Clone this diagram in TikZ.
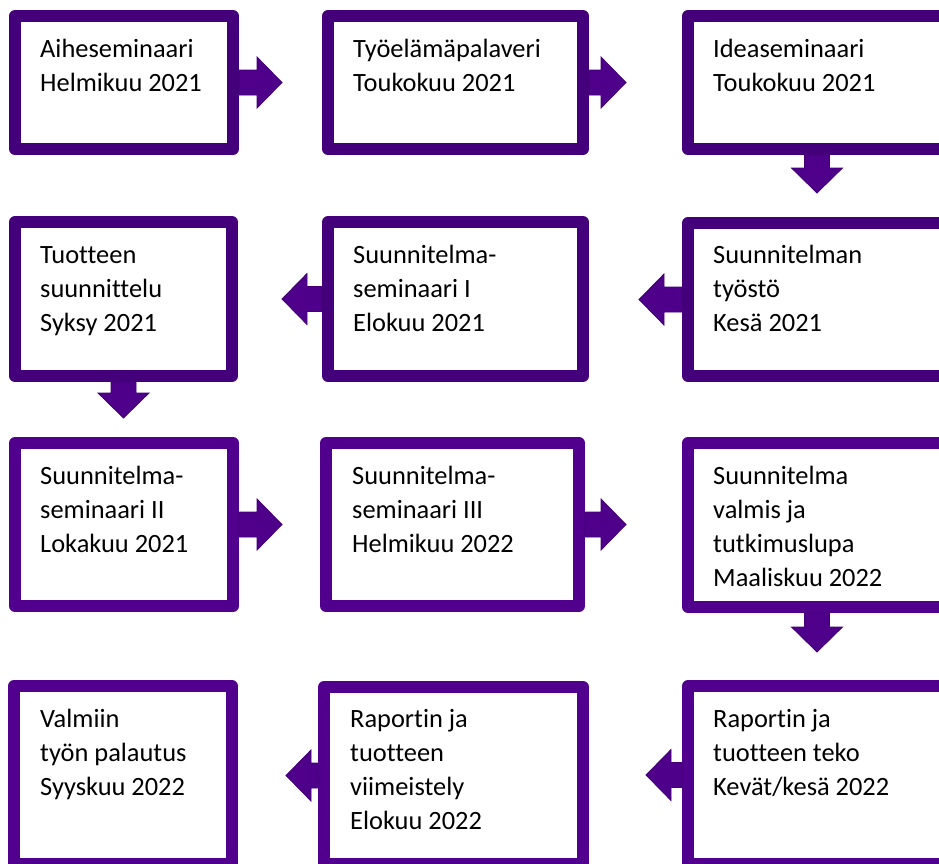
\documentclass[tikz,border=0pt]{standalone}
\usepackage{fontspec}
\setmainfont[Ligatures=NoCommon]{Carlito}
\usetikzlibrary{positioning}
\definecolor{boxdark}{RGB}{68,0,122}
\definecolor{boxlight}{RGB}{80,0,140}
\definecolor{arrowfill}{RGB}{78,0,138}
\definecolor{arrowedge}{RGB}{66,0,116}
\tikzset{
  stepbox/.style={draw=boxdark, line width=12pt, line join=round, outer sep=6pt,
    inner sep=0pt, anchor=north west, fill=white},
  steptext/.style={anchor=north west, align=left, inner sep=0pt},
  pics/blockarr/.style={code={
    \draw[fill=arrowfill, draw=arrowedge, line width=0.8pt]
      (0pt,-12.5pt) -- (#1,-12.5pt) -- ++(0pt,-13pt) -- ++(25pt,25.5pt)
      -- ++(-25pt,25.5pt) -- ++(0pt,-13pt) -- (0pt,12.5pt) -- cycle;
  }}
}

\begin{document}
\begin{tikzpicture}[x=1pt, y=-1pt]
    \fontsize{26.4}{34}\selectfont
    \useasboundingbox (0,0) rectangle (939,863);
    \clip (0,0) rectangle (939,863);
    % boxes
    \node [stepbox, minimum width=218pt, minimum height=133pt] (b1) at (9,10) {};
    \node [stepbox, minimum width=255pt, minimum height=133pt] (b2) at (322,10) {};
    \node [stepbox, minimum width=258pt, minimum height=133pt] (b3) at (682,10) {};
    \node [stepbox, minimum width=217pt, minimum height=154pt] (b4) at (9,216) {};
    \node [stepbox, minimum width=255pt, minimum height=154pt] (b5) at (322,216) {};
    \node [stepbox, minimum width=258pt, minimum height=153pt] (b6) at (682,217) {};
    \node [stepbox, draw=boxlight, minimum width=218pt, minimum height=163pt] (b7) at (9,437) {};
    \node [stepbox, draw=boxlight, minimum width=253pt, minimum height=163pt] (b8) at (320,437) {};
    \node [stepbox, draw=boxlight, minimum width=258pt, minimum height=164pt] (b9) at (682,437) {};
    \node [stepbox, draw=boxlight, minimum width=218pt, minimum height=178pt] (b10) at (8,680) {};
    \node [stepbox, draw=boxlight, minimum width=259pt, minimum height=177pt] (b11) at (318,681) {};
    \node [stepbox, draw=boxlight, minimum width=258pt, minimum height=178pt] (b12) at (682,680) {};
    % texts (first baseline 47pt below the box top)
    \node [steptext] (t1) at ([shift={(31pt,-23.2pt)}]b1.north west) {\strut Aiheseminaari\\Helmikuu 2021};
    \node [steptext] (t2) at ([shift={(31pt,-23.2pt)}]b2.north west) {\strut Työelämäpalaveri\\Toukokuu 2021};
    \node [steptext] (t3) at ([shift={(31pt,-23.2pt)}]b3.north west) {\strut Ideaseminaari\\Toukokuu 2021};
    \node [steptext] (t4) at ([shift={(31pt,-23.2pt)}]b4.north west) {\strut Tuotteen\\suunnittelu\\Syksy 2021};
    \node [steptext] (t5) at ([shift={(31pt,-23.2pt)}]b5.north west) {\strut Suunnitelma-\\seminaari I\\Elokuu 2021};
    \node [steptext] (t6) at ([shift={(31pt,-22.2pt)}]b6.north west) {\strut Suunnitelman\\työstö\\Kesä 2021};
    \node [steptext] (t7) at ([shift={(31pt,-23.2pt)}]b7.north west) {\strut Suunnitelma-\\seminaari II\\Lokakuu 2021};
    \node [steptext] (t8) at ([shift={(32pt,-23.2pt)}]b8.north west) {\strut Suunnitelma-\\seminaari III\\Helmikuu 2022};
    \node [steptext] (t9) at ([shift={(31pt,-23.2pt)}]b9.north west) {\strut Suunnitelma\\valmis ja\\tutkimuslupa\\Maaliskuu 2022};
    \node [steptext] (t10) at ([shift={(32pt,-23.2pt)}]b10.north west) {\strut Valmiin\\työn palautus\\Syyskuu 2022};
    \node [steptext] (t11) at ([shift={(32pt,-22.2pt)}]b11.north west) {\strut Raportin ja\\tuotteen\\viimeistely\\Elokuu 2022};
    \node [steptext] (t12) at ([shift={(31pt,-23.2pt)}]b12.north west) {\strut Raportin ja\\tuotteen teko\\Kevät/kesä 2022};
    % arrows
    \pic at (b1.east) {blockarr=18pt};
    \pic at (b2.east) {blockarr=12pt};
    \pic[rotate=-90] at (b3.south) {blockarr=13pt};
    \pic[rotate=180] at (b6.west) {blockarr=18pt};
    \pic[rotate=180] at (b5.west) {blockarr=15pt};
    \pic[rotate=-90] at (b4.south) {blockarr=11pt};
    \pic at (b7.east) {blockarr=18pt};
    \pic at (b8.east) {blockarr=16pt};
    \pic[rotate=-90] at (b9.south) {blockarr=14pt};
    \pic[rotate=180] at (b12.west) {blockarr=11pt};
    \pic[rotate=180] at (b11.west) {blockarr=7pt};
\end{tikzpicture}
\end{document}
